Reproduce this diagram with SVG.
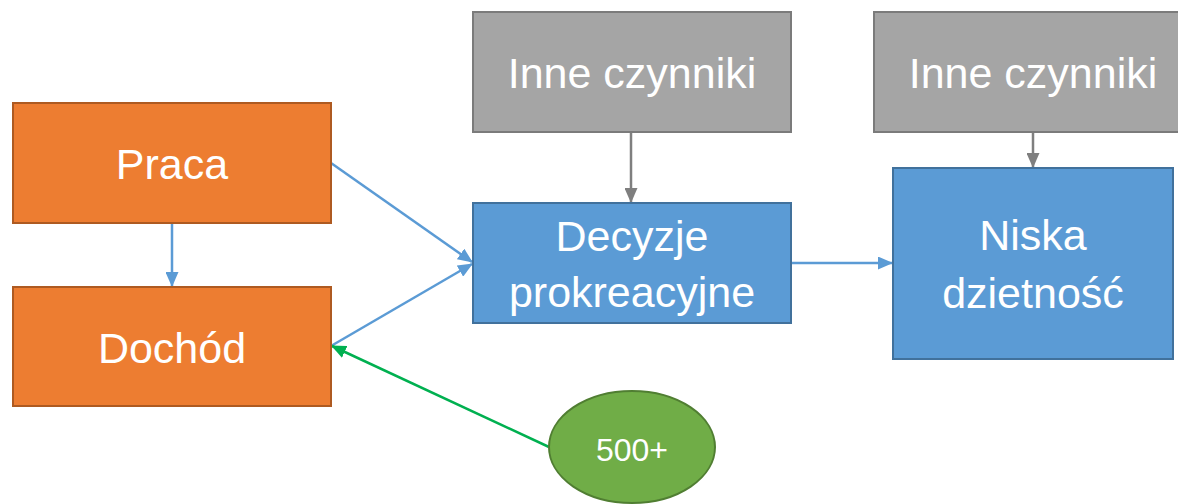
<svg xmlns="http://www.w3.org/2000/svg" width="1178" height="504" viewBox="0 0 1178 504">
<style>
text{font-family:"Liberation Sans",Arial,sans-serif;fill:#fff;text-anchor:middle}
.t{font-size:43px}
.o{fill:#ED7D31;stroke:#AE5A21;stroke-width:2}
.b{fill:#5B9BD5;stroke:#41719C;stroke-width:2}
.g{fill:#A5A5A5;stroke:#7B7B7B;stroke-width:2}
.e{fill:#70AD47;stroke:#507E32;stroke-width:2}
.cb{stroke:#5B9BD5;stroke-width:2.5;fill:none;marker-end:url(#ab)}
.cg{stroke:#7F7F7F;stroke-width:2.5;fill:none;marker-end:url(#ag)}
.cn{stroke:#00B050;stroke-width:2.5;fill:none;marker-end:url(#an)}
</style>
<defs>
<marker id="ab" markerUnits="userSpaceOnUse" markerWidth="15" markerHeight="13" refX="14" refY="6.5" orient="auto"><path d="M0,0 L15,6.5 L0,13 Z" fill="#5B9BD5"/></marker>
<marker id="ag" markerUnits="userSpaceOnUse" markerWidth="15" markerHeight="13" refX="14" refY="6.5" orient="auto"><path d="M0,0 L15,6.5 L0,13 Z" fill="#7F7F7F"/></marker>
<marker id="an" markerUnits="userSpaceOnUse" markerWidth="15" markerHeight="13" refX="14" refY="6.5" orient="auto"><path d="M0,0 L15,6.5 L0,13 Z" fill="#00B050"/></marker>
</defs>
<g id="connectors">
<line class="cb" x1="172" y1="223" x2="172" y2="286"/>
<line class="cb" x1="331" y1="163" x2="472" y2="262"/>
<line class="cb" x1="331" y1="346" x2="472" y2="264"/>
<line class="cg" x1="631" y1="132" x2="631" y2="202"/>
<line class="cg" x1="1033" y1="132" x2="1033" y2="167"/>
<line class="cb" x1="791" y1="263" x2="892" y2="263"/>
<line class="cn" x1="549" y1="447" x2="332" y2="346"/>
</g>
<g id="praca"><rect class="o" x="13" y="103" width="318" height="120"/><text class="t" x="172" y="179">Praca</text></g>
<g id="dochod"><rect class="o" x="13" y="287" width="318" height="119"/><text class="t" x="172" y="363">Dochód</text></g>
<g id="inne1"><rect class="g" x="473" y="12" width="318" height="120"/><text class="t" x="632" y="88">Inne czynniki</text></g>
<g id="inne2"><rect class="g" x="874" y="12" width="306" height="120"/><text class="t" x="1033" y="88">Inne czynniki</text></g>
<g id="decyzje"><rect class="b" x="473" y="203" width="318" height="120"/><text class="t" x="632" y="251">Decyzje</text><text class="t" x="632" y="307">prokreacyjne</text></g>
<g id="niska"><rect class="b" x="893" y="168" width="280" height="191"/><text class="t" x="1033" y="250">Niska</text><text class="t" x="1033" y="308">dzietność</text></g>
<g id="n500"><ellipse class="e" cx="632" cy="447" rx="83" ry="56"/><text x="632" y="461" style="font-size:32px">500+</text></g>
</svg>
